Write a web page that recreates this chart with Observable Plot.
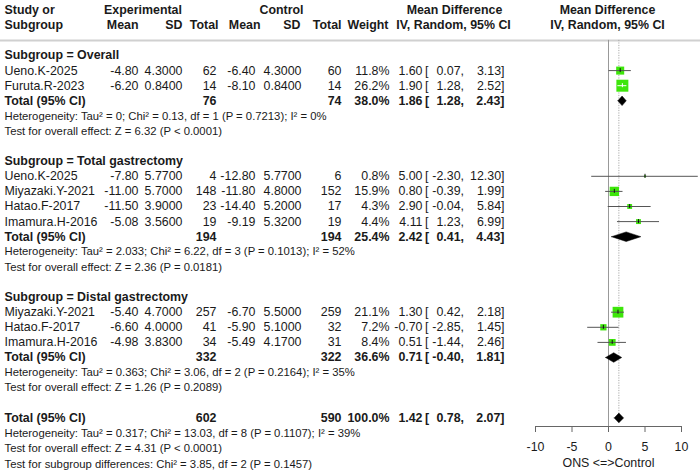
<!DOCTYPE html>
<html><head><meta charset="utf-8">
<script src="https://cdn.jsdelivr.net/npm/d3@7"></script>
<script src="https://cdn.jsdelivr.net/npm/@observablehq/plot@0.6"></script>
<style>body{margin:0;background:#fff;} #chart{width:700px;height:473px;}</style>
</head><body><div id="chart"></div>
<script>
// ---------- data ----------
const subgroupNames = ["Overall", "Total gastrectomy", "Distal gastrectomy"];
const studyNames = ["Ueno.K-2025", "Furuta.R-2023", "Ueno.K-2025", "Miyazaki.Y-2021", "Hatao.F-2017", "Imamura.H-2016", "Miyazaki.Y-2021", "Hatao.F-2017", "Imamura.H-2016"];
const studyGroup = [0, 0, 1, 1, 1, 1, 2, 2, 2];
const expMean = [-4.80, -6.20, -7.80, -11.00, -11.50, -5.08, -5.40, -6.60, -4.98];
const expSD = [4.3000, 0.8400, 5.7700, 5.7000, 3.9000, 3.5600, 4.7000, 4.0000, 3.8300];
const expN = [62, 14, 4, 148, 23, 19, 257, 41, 34];
const ctrlMean = [-6.40, -8.10, -12.80, -11.80, -14.40, -9.19, -6.70, -5.90, -5.49];
const ctrlSD = [4.3000, 0.8400, 5.7700, 4.8000, 5.2000, 5.3200, 5.5000, 5.1000, 4.1700];
const ctrlN = [60, 14, 6, 152, 17, 19, 259, 32, 31];
const weight = [11.8, 26.2, 0.8, 15.9, 4.3, 4.4, 21.1, 7.2, 8.4];
const md = [1.60, 1.90, 5.00, 0.80, 2.90, 4.11, 1.30, -0.70, 0.51];
const mdLower = [0.07, 1.28, -2.30, -0.39, -0.04, 1.23, 0.42, -2.85, -1.44];
const mdUpper = [3.13, 2.52, 12.30, 1.99, 5.84, 6.99, 2.18, 1.45, 2.46];

const subExpN = [76, 194, 332];
const subCtrlN = [74, 194, 322];
const subWeight = [38.0, 25.4, 36.6];
const subMD = [1.86, 2.42, 0.71];
const subLower = [1.28, 0.41, -0.40];
const subUpper = [2.43, 4.43, 1.81];
const subTau2 = ["0", "2.033", "0.363"];
const subChi2 = ["0.13", "6.22", "3.06"];
const subDf = [1, 3, 2];
const subP = ["0.7213", "0.1013", "0.2164"];
const subI2 = [0, 52, 35];
const subZ = ["6.32", "2.36", "1.26"];
const subPz = ["< 0.0001", "= 0.0181", "= 0.2089"];

const allExpN = 602, allCtrlN = 590, allWeight = 100.0;
const allMD = 1.42, allLower = 0.78, allUpper = 2.07;
const allTau2 = "0.317", allChi2 = "13.03", allDf = 8, allP = "0.1107", allI2 = 39;
const allZ = "4.31", allPz = "< 0.0001";
const diffChi2 = "3.85", diffDf = 2, diffP = "0.1457";

const xTicks = [-10, -5, 0, 5, 10];
const axisLabel = "ONS <=>Control";

// ---------- layout ----------
const W = 700, H = 473, ML = 535, MR = 19, MB = 47;
const rowPx = 15.1, row0Px = 55;
const yTop = -row0Px / rowPx, yBottom = (H - MB - row0Px) / rowPx;
const TXT = "#1a1a1a";
const GREEN = "#3de60a";
const FS = 12.4, FS_NOTE = 11.3;
const pxPerUnit = (W - ML - MR) / (xTicks[xTicks.length - 1] - xTicks[0]);
const rK = 1.32; // r = rK * sqrt(weight)

// ---------- build rows ----------
const rows = [];
const subRows = [];
const noteRows = [];
const studyPts = [];
const diamonds = [];
let r = 0;
const f2 = v => v.toFixed(2), f4 = v => v.toFixed(4);
subgroupNames.forEach((g, gi) => {
  subRows.push({row: r, label: "Subgroup = " + g}); r++;
  studyNames.forEach((s, i) => {
    if (studyGroup[i] !== gi) return;
    const d = {row: r, bold: false, study: s, em: f2(expMean[i]), esd: f4(expSD[i]), en: String(expN[i]),
      cm: f2(ctrlMean[i]), csd: f4(ctrlSD[i]), cn: String(ctrlN[i]), w: weight[i].toFixed(1) + "%",
      md: md[i], lo: mdLower[i], hi: mdUpper[i], weight: weight[i]};
    rows.push(d); studyPts.push(d); r++;
  });
  const t = {row: r, bold: true, study: "Total (95% CI)", em: "", esd: "", en: String(subExpN[gi]), cm: "", csd: "",
    cn: String(subCtrlN[gi]), w: subWeight[gi].toFixed(1) + "%", md: subMD[gi], lo: subLower[gi], hi: subUpper[gi]};
  rows.push(t); diamonds.push(t); r++;
  noteRows.push({row: r, label: `Heterogeneity: Tau² = ${subTau2[gi]}; Chi² = ${subChi2[gi]}, df = ${subDf[gi]} (P = ${subP[gi]}); I² = ${subI2[gi]}%`}); r++;
  noteRows.push({row: r, label: `Test for overall effect: Z = ${subZ[gi]} (P ${subPz[gi]})`}); r++;
  r++;
});
const tot = {row: r, bold: true, study: "Total (95% CI)", em: "", esd: "", en: String(allExpN), cm: "", csd: "",
  cn: String(allCtrlN), w: allWeight.toFixed(1) + "%", md: allMD, lo: allLower, hi: allUpper};
rows.push(tot); diamonds.push(tot); r++;
noteRows.push({row: r, label: `Heterogeneity: Tau² = ${allTau2}; Chi² = ${allChi2}, df = ${allDf} (P = ${allP}); I² = ${allI2}%`}); r++;
noteRows.push({row: r, label: `Test for overall effect: Z = ${allZ} (P ${allPz})`}); r++;
noteRows.push({row: r + 0.08, label: `Test for subgroup differences: Chi² = ${diffChi2}, df = ${diffDf} (P = ${diffP})`});

// CI line colour: white when CI lies inside the square
studyPts.forEach(d => {
  const side = rK * Math.sqrt(d.weight) * Math.sqrt(Math.PI);
  d.inside = (d.hi - d.lo) * pxPerUnit <= side;
  d.ciColor = d.inside ? "white" : "#555";
  d.tickColor = d.inside ? "white" : "#111";
});

// diamond vertices
const halfH = 4.8 / rowPx;
const diamondPts = [];
diamonds.forEach((d, k) => {
  diamondPts.push({k, x: d.lo, y: d.row}, {k, x: d.md, y: d.row - halfH}, {k, x: d.hi, y: d.row}, {k, x: d.md, y: d.row + halfH}, {k, x: d.lo, y: d.row});
});

// ---------- table columns ----------
const cols = [
  {key: "study", x: 4, anchor: "start"},
  {key: "em", x: 138, anchor: "end"},
  {key: "esd", x: 182, anchor: "end"},
  {key: "en", x: 216, anchor: "end"},
  {key: "cm", x: 255, anchor: "end"},
  {key: "csd", x: 301, anchor: "end"},
  {key: "cn", x: 341, anchor: "end"},
  {key: "w", x: 389, anchor: "end"},
  {key: d => f2(d.md), x: 422, anchor: "end"},
  {key: d => "[", x: 424.5, anchor: "start"},
  {key: d => f2(d.lo) + ",", x: 463.5, anchor: "end"},
  {key: d => f2(d.hi) + "]", x: 504, anchor: "end"}
];
const colMarks = [];
for (const c of cols) {
  for (const b of [false, true]) {
    colMarks.push(Plot.text(rows.filter(d => d.bold === b), {
      y: "row", text: c.key, frameAnchor: "left", dx: c.x - ML, textAnchor: c.anchor,
      fontSize: FS, fill: TXT, fontWeight: b ? "bold" : "normal"
    }));
  }
}

const headers = [
  {row: -3, label: "Study or", x: 4, anchor: "start"},
  {row: -2, label: "Subgroup", x: 4, anchor: "start"},
  {row: -3, label: "Experimental", x: 142.5, anchor: "middle"},
  {row: -2, label: "Mean", x: 138, anchor: "end"},
  {row: -2, label: "SD", x: 182, anchor: "end"},
  {row: -2, label: "Total", x: 218, anchor: "end"},
  {row: -3, label: "Control", x: 281, anchor: "middle"},
  {row: -2, label: "Mean", x: 260, anchor: "end"},
  {row: -2, label: "SD", x: 300, anchor: "end"},
  {row: -2, label: "Total", x: 341, anchor: "end"},
  {row: -2, label: "Weight", x: 388, anchor: "end"},
  {row: -3, label: "Mean Difference", x: 454, anchor: "middle"},
  {row: -2, label: "IV, Random, 95% CI", x: 453, anchor: "middle"},
  {row: -3, label: "Mean Difference", x: 607, anchor: "middle"},
  {row: -2, label: "IV, Random, 95% CI", x: 607, anchor: "middle"}
];
const headerMarks = headers.map(h => Plot.text([h], {y: "row", text: "label", frameAnchor: "left", dx: h.x - ML,
  textAnchor: h.anchor, fontSize: FS, fontWeight: "bold", fill: TXT}));

const chart = Plot.plot({
  width: W, height: H,
  marginLeft: ML, marginRight: MR, marginTop: 0, marginBottom: MB,
  style: {fontFamily: "'Liberation Sans', Arial, sans-serif", background: "white", overflow: "visible"},
  x: {domain: [xTicks[0], xTicks[xTicks.length - 1]], axis: null},
  y: {domain: [yTop, yBottom], range: [0, H - MB], axis: null},
  r: {type: "sqrt", domain: [0, 100], range: [0, rK * 10]},
  marks: [
    Plot.ruleY([-1], {stroke: "#d0d0d0", strokeWidth: 2, insetLeft: -ML, insetRight: -MR}),
    ...headerMarks,
    Plot.text(subRows, {y: "row", text: "label", frameAnchor: "left", dx: 4 - ML, textAnchor: "start", fontSize: FS, fontWeight: "bold", fill: TXT}),
    ...colMarks,
    Plot.text(noteRows, {y: "row", text: "label", frameAnchor: "left", dx: 4 - ML, textAnchor: "start", fontSize: FS_NOTE, fill: TXT}),
    Plot.ruleX([0], {y1: -1, y2: yBottom, stroke: "#999", strokeWidth: 1}),
    Plot.ruleX([allMD], {y1: -1, y2: yBottom - 0.2, stroke: "#aaa", strokeWidth: 1, strokeDasharray: "1.2,1.3"}),
    Plot.dot(studyPts, {x: "md", y: "row", r: "weight", symbol: "square", fill: GREEN, stroke: "none"}),
    Plot.ruleY(studyPts, {y: "row", x1: "lo", x2: "hi", stroke: "ciColor", strokeWidth: 1}),
    Plot.ruleX(studyPts, {x: "md", y1: "row", y2: "row", insetTop: -2, insetBottom: -2, stroke: "tickColor", strokeWidth: 1}),
    Plot.line(diamondPts, {x: "x", y: "y", z: "k", fill: "black", stroke: "black", strokeWidth: 0.5, curve: "linear"}),
    Plot.ruleY([yBottom], {x1: xTicks[0], x2: xTicks[xTicks.length - 1], stroke: "#666"}),
    Plot.axisX({ticks: xTicks, tickSize: 6, tickPadding: 10, tickFormat: d => String(d), label: null, stroke: "#666", fill: TXT, fontSize: FS}),
    Plot.text([axisLabel], {x: d3.mean(xTicks), frameAnchor: "bottom", dy: 40, text: d => d, fontSize: FS, fill: TXT})
  ]
});
document.getElementById("chart").appendChild(chart);
</script>
</body></html>
